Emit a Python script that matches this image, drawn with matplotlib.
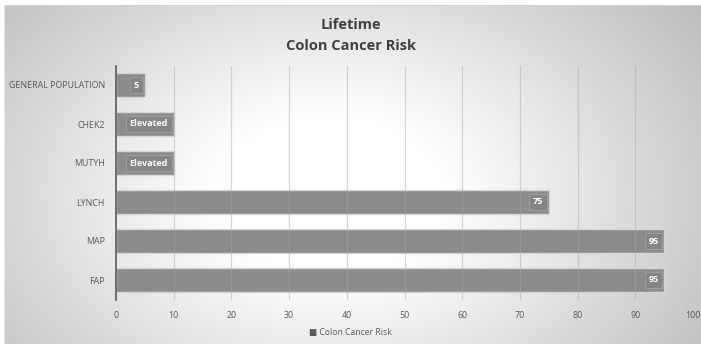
import numpy as np
import matplotlib.pyplot as plt

categories = ["GENERAL POPULATION", "CHEK2", "MUTYH", "LYNCH", "MAP", "FAP"]
values = [5, 10, 10, 75, 95, 95]
bar_labels = ["5", "Elevated", "Elevated", "75", "95", "95"]
series_name = "Colon Cancer Risk"
x_ticks = list(range(0, 101, 10))

plt.rcParams['font.family'] = ['Open Sans', 'DejaVu Sans']

W, H = 701, 344
fig = plt.figure(figsize=(W / 100, H / 100), dpi=100)

# radial grey background, light in the middle
bg = fig.add_axes([0, 0, 1, 1], zorder=-5)
yy, xx = np.mgrid[0:H, 0:W]
d = np.sqrt(((xx - 330) / 1.15) ** 2 + ((yy - 195) * 1.25) ** 2)
shade = 1.0 - 0.28 * np.clip((d - 100) / 320, 0, 1)
img = np.dstack([shade] * 3)
img[:5, :, :] = 1.0
img[:, :4, :] = 1.0
img[5, 4:, :] = 0.82
img[5:, 4, :] = 0.9
bg.imshow(img, aspect='auto', extent=[0, W, H, 0], interpolation='bilinear')
bg.set_axis_off()

ax = fig.add_axes([116 / W, 1 - 299.5 / H, 577 / W, 234 / H])
ax.set_facecolor('none')

pos = np.arange(len(categories))
ax.barh(pos, values, height=0.6, color='#8c8c8c', edgecolor='#d6d6d6',
        linewidth=1.0, zorder=2)

for x in x_ticks[1:]:
    ax.axvline(x, color='#a8a8a8', alpha=0.45, lw=0.9, zorder=3)

for p, v, lab in zip(pos, values, bar_labels):
    ax.text(v - 1.0, p, lab, ha='right', va='center', color='white',
            fontsize=6.5, fontweight='bold', zorder=4,
            bbox=dict(boxstyle='square,pad=0.4', fc='#858585',
                      ec='#9c9c9c', lw=0.8))

ax.set_xlim(0, 100)
ax.set_ylim(len(categories) - 0.5, -0.5)
ax.set_xticks(x_ticks)
ax.set_yticks(pos)
ax.set_yticklabels(categories)
ax.tick_params(axis='both', length=0, labelsize=6.4, colors='#595959')
ax.tick_params(axis='x', pad=8)
ax.tick_params(axis='y', pad=8)
for s in ['top', 'right', 'bottom']:
    ax.spines[s].set_visible(False)
ax.spines['left'].set_color('#595959')
ax.spines['left'].set_linewidth(1.2)
ax.spines['left'].set_zorder(5)

fig.text(0.5, 1 - 25 / H, "Lifetime", ha='center', va='center',
         fontsize=10.5, fontweight='bold', color='#404040')
fig.text(0.5, 1 - 46 / H, series_name, ha='center', va='center',
         fontsize=10.5, fontweight='bold', color='#404040')

# legend entry
fig.text(0.5, 1 - 333 / H, "\u25a0 " + series_name, ha='center', va='center',
         fontsize=6.2, color='#595959')

fig.savefig('out.png', dpi=100)
